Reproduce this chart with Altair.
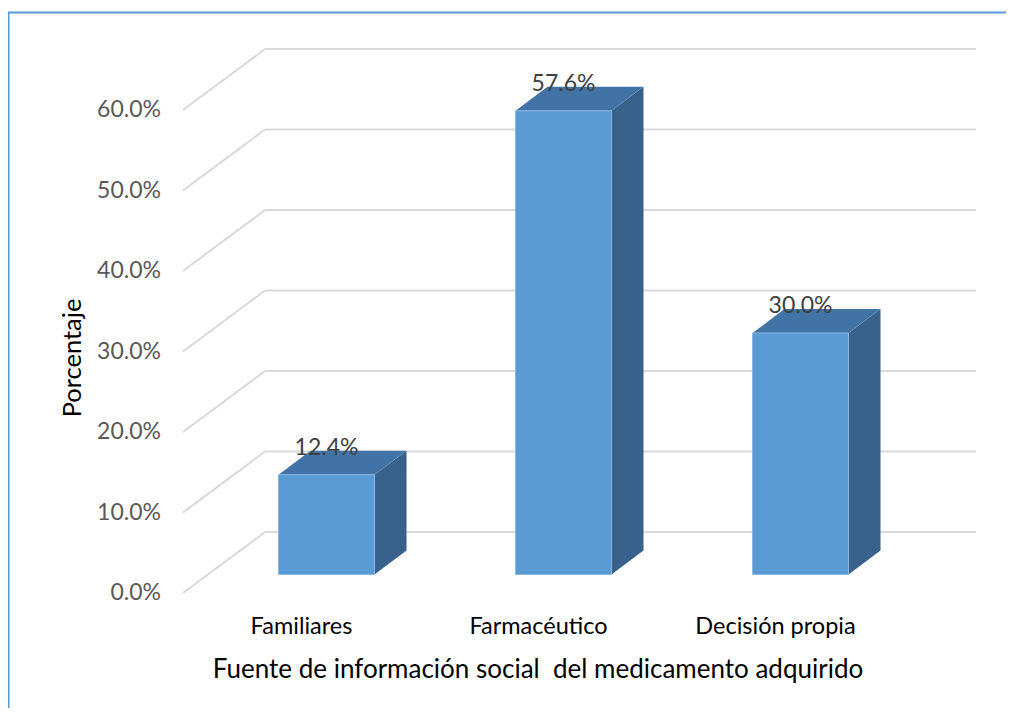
import altair as alt
import pandas as pd

# ---------------- data ----------------
categories = ["Familiares", "Farmacéutico", "Decisión propia"]
values = [12.4, 57.6, 30.0]
value_labels = ["12.4%", "57.6%", "30.0%"]
ticks = [0, 10, 20, 30, 40, 50, 60]
tick_labels = ["0.0%", "10.0%", "20.0%", "30.0%", "40.0%", "50.0%", "60.0%"]
x_title = "Fuente de información social\u00a0 del medicamento adquirido"
y_title = "Porcentaje"

# ---------------- layout (pixels of the plot area) ----------------
W, H = 998, 700
X0_PX = 175            # left edge of the front plane
CAT_PX = 237           # pixels per category
Y0_PX = 585            # 0 % on the front plane
PCT_PX = 8.05          # pixels per percent
WALL_DX, WALL_DY = 82, 61   # offset of back wall
BAR_DX, BAR_DY = 25, 18.5   # offset of bar front faces
DEP_DX, DEP_DY = 32, 24     # bar depth
BAR_W = 96
FONT = "Lato"


def xu(px):
    return px / CAT_PX


def yu(px):
    return px / PCT_PX


xs = alt.Scale(domain=[-X0_PX / CAT_PX, (W - X0_PX) / CAT_PX], nice=False, zero=False)
ys = alt.Scale(domain=[-(H - Y0_PX) / PCT_PX, Y0_PX / PCT_PX], nice=False, zero=False)
n = len(categories)

# gridlines (left wall diagonals + back wall)
grid = pd.DataFrame({
    "t": ticks,
    "xf": [0.0] * len(ticks),
    "xw": [xu(WALL_DX)] * len(ticks),
    "xe": [n + xu(WALL_DX)] * len(ticks),
    "yf": ticks,
    "yw": [t + yu(WALL_DY) for t in ticks],
})

# bars
front_rows, top_rows, side_rows, lab_rows = [], [], [], []
ddx, ddy = xu(DEP_DX), yu(DEP_DY)
for i, (c, v, lab) in enumerate(zip(categories, values, value_labels)):
    cx = i + 0.5 + xu(BAR_DX)
    xl = cx - xu(BAR_W) / 2
    xr = cx + xu(BAR_W) / 2
    base = yu(BAR_DY)
    top = v + base
    front_rows.append({"cat": c, "xl": xl, "xr": xr, "lo": base, "hi": top})
    for x, lo, hi in [(xl, top, top), (xl + ddx, top, top + ddy),
                      (xr, top, top + ddy), (xr + ddx, top + ddy, top + ddy)]:
        top_rows.append({"key": c, "x": x, "lo": lo, "hi": hi})
    for x, lo, hi in [(xr, base, top), (xr + ddx, base + ddy, top + ddy)]:
        side_rows.append({"key": c, "x": x, "lo": lo, "hi": hi})
    lab_rows.append({"x": cx, "y": top, "label": lab})

front = pd.DataFrame(front_rows)
topf = pd.DataFrame(top_rows)
side = pd.DataFrame(side_rows)
vlabels = pd.DataFrame(lab_rows)
tlabels = pd.DataFrame({"t": ticks, "label": tick_labels})
clabels = pd.DataFrame({"x": [i + 0.5 for i in range(n)], "label": categories})
one = pd.DataFrame({"a": [0]})

GRID = "#D9D9D9"

diag = alt.Chart(grid).mark_rule(color=GRID, strokeWidth=2).encode(
    x=alt.X("xf:Q", scale=xs, axis=None), x2="xw:Q",
    y=alt.Y("yf:Q", scale=ys, axis=None), y2="yw:Q")

back = alt.Chart(grid).mark_rule(color=GRID, strokeWidth=2).encode(
    x=alt.X("xw:Q", scale=xs, axis=None), x2="xe:Q",
    y=alt.Y("yw:Q", scale=ys, axis=None))

side_l = alt.Chart(side).mark_area(color="#38628B").encode(
    x=alt.X("x:Q", scale=xs, axis=None),
    y=alt.Y("lo:Q", scale=ys, axis=None), y2="hi:Q", detail="key:N")

top_l = alt.Chart(topf).mark_area(color="#4273A6").encode(
    x=alt.X("x:Q", scale=xs, axis=None),
    y=alt.Y("lo:Q", scale=ys, axis=None), y2="hi:Q", detail="key:N")

front_l = alt.Chart(front).mark_rect(color="#5B9BD5", stroke="#8DB6E2", strokeWidth=1).encode(
    x=alt.X("xl:Q", scale=xs, axis=None), x2="xr:Q",
    y=alt.Y("lo:Q", scale=ys, axis=None), y2="hi:Q")

val_l = alt.Chart(vlabels).mark_text(font=FONT, fontSize=23, color="#404040",
                                     baseline="middle", align="center", dy=-27).encode(
    x=alt.X("x:Q", scale=xs, axis=None), y=alt.Y("y:Q", scale=ys, axis=None), text="label:N")

tick_l = alt.Chart(tlabels).mark_text(font=FONT, fontSize=23, color="#595959",
                                      baseline="middle", align="right").encode(
    x=alt.value(153), y=alt.Y("t:Q", scale=ys, axis=None), text="label:N")

cat_l = alt.Chart(clabels).mark_text(font=FONT, fontSize=23.5, color="#000000",
                                     baseline="middle", align="center").encode(
    x=alt.X("x:Q", scale=xs, axis=None), y=alt.value(619), text="label:N")

xt = alt.Chart(one).mark_text(font=FONT, fontSize=26, color="#000000",
                              baseline="middle", align="center", text=x_title).encode(
    x=alt.value(530), y=alt.value(662))

yt = alt.Chart(one).mark_text(font=FONT, fontSize=25.5, color="#000000",
                              baseline="middle", align="center", angle=270, text=y_title).encode(
    x=alt.value(65), y=alt.value(350))

border_l = alt.Chart(one).mark_rule(color="#5B9BD5", strokeWidth=2).encode(
    x=alt.value(0.5), y=alt.value(4), y2=alt.value(H))
border_t = alt.Chart(one).mark_rule(color="#5B9BD5", strokeWidth=2).encode(
    x=alt.value(0), x2=alt.value(W), y=alt.value(4.5))

chart = alt.layer(
    diag, back, side_l, top_l, front_l, val_l, tick_l, cat_l, xt, yt, border_l, border_t
).properties(
    width=W, height=H, autosize=alt.AutoSizeParams(type="none"), padding=0,
    background="white"
).configure_view(stroke=None)

chart.save("out.html", embed_options={"renderer": "svg", "actions": False})
